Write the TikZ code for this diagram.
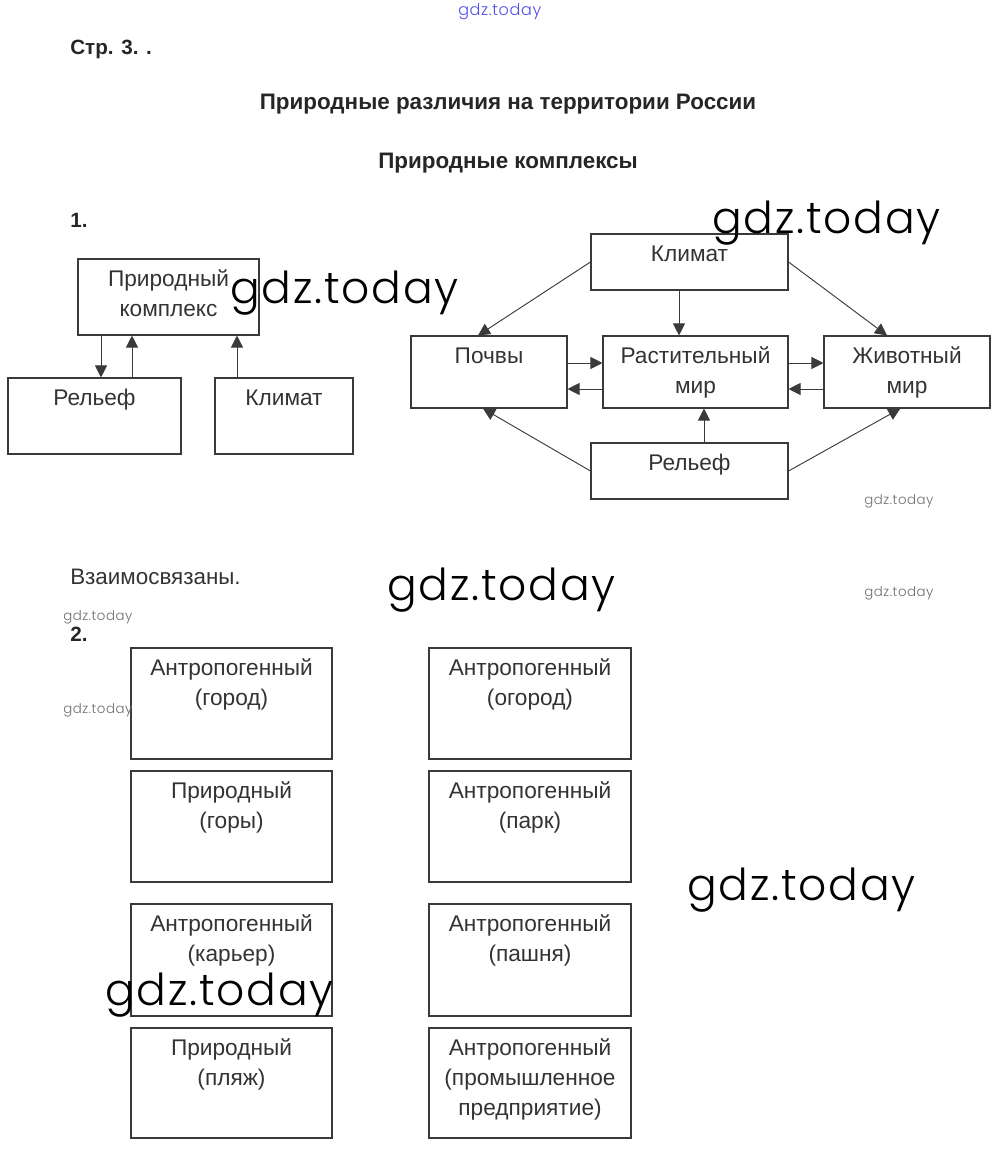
\documentclass[tikz,border=0pt]{standalone}
\usepackage{fontspec}
\setmainfont{Liberation Sans}
\IfFontExistsTF{Poppins Light}
  {\newfontfamily\wmfont{Poppins Light}[LetterSpace=4]}
  {\newfontfamily\wmfont{Poppins}[LetterSpace=4]}
\usetikzlibrary{arrows.meta, positioning}
\definecolor{inkgray}{HTML}{333333}
\definecolor{framegray}{HTML}{3A3A3A}
\definecolor{wmgray}{HTML}{6E6E6E}
\definecolor{wmblue}{HTML}{4F4FE8}

\begin{document}
\begin{tikzpicture}[
    x=0.75pt, y=-0.75pt, % one unit = one pixel of the page
    box/.style 2 args={draw=framegray, line width=0.8pt, minimum width=#1*0.75pt, minimum height=#2*0.75pt, inner sep=0pt},
    boxtext/.style={anchor=base, yshift=-21pt-(#1-1)*22.5pt, align=center, text=inkgray, inner sep=0pt, font=\fontsize{17}{22.5}\selectfont},
    boxtext/.default=1,
    heading/.style={font=\bfseries\fontsize{16.8}{20}\selectfont, text=black!85, inner sep=0pt},
    tasknum/.style={font=\bfseries\fontsize{15.5}{18}\selectfont, text=black!85, inner sep=0pt},
    link/.style={draw=framegray, line width=0.7pt, -{Triangle[length=9pt, width=9pt]}},
    wmbig/.style={font=\wmfont\fontsize{33}{33}\selectfont, inner sep=0pt, anchor=base west},
    wmsmall/.style={font=\wmfont\fontsize{10}{10}\selectfont, text=wmgray, inner sep=0pt, anchor=base west}
  ]
  \useasboundingbox (0,0) rectangle (1000,1152);

  % Headings
  \node (page) [tasknum, anchor=base west] at (70,55) {Стр. 3. .};
  \node (title) [heading, anchor=base] at (508,110) {Природные различия на территории России};
  \node (subtitle) [heading, anchor=base] at (508,168) {Природные комплексы};
  \node (task1) [tasknum, anchor=base west] at (70,227) {1.};

  % Task 1, left scheme
  \node (kompl) [box={181}{76}, label={[boxtext=2]north:Природный\\комплекс}] at (168.5,297) {};
  \node (relL) [box={173}{76}, label={[boxtext]north:Рельеф}] at (94.5,416) {};
  \node (klimL) [box={138}{76}, label={[boxtext]north:Климат}] at (284,416) {};

  \coordinate (colA) at (101,0);
  \coordinate (colB) at (132,0);
  \coordinate (colC) at (237,0);
  \draw[link] (kompl.south -| colA) -- (relL.north -| colA);
  \draw[link] (relL.north -| colB) -- (kompl.south -| colB);
  \draw[link] (klimL.north -| colC) -- (kompl.south -| colC);

  % Task 1, right scheme
  \node (klimR) [box={197}{56}, label={[boxtext]north:Климат}] at (689.5,262) {};
  \node (pochv) [box={156}{72}, label={[boxtext]north:Почвы}] at (489,372) {};
  \node (rast) [box={185}{72}, label={[boxtext=2]north:Растительный\\мир}] at (695.5,372) {};
  \node (zhiv) [box={166}{72}, label={[boxtext=2]north:Животный\\мир}] at (907,372) {};
  \node (relR) [box={197}{56}, label={[boxtext]north:Рельеф}] at (689.5,471) {};

  \coordinate (vK) at (679,0);
  \coordinate (vR) at (704,0);
  \coordinate (hUp) at (0,363);
  \coordinate (hDn) at (0,389);
  \draw[link] (klimR.west) -- ([xshift=-8.25pt]pochv.north);
  \draw[link] (klimR.south -| vK) -- (rast.north -| vK);
  \draw[link] (klimR.east) -- ([xshift=-15pt]zhiv.north);
  \draw[link] (pochv.east |- hUp) -- (rast.west |- hUp);
  \draw[link] (rast.west |- hDn) -- (pochv.east |- hDn);
  \draw[link] (rast.east |- hUp) -- (zhiv.west |- hUp);
  \draw[link] (zhiv.west |- hDn) -- (rast.east |- hDn);
  \draw[link] (relR.north -| vR) -- (rast.south -| vR);
  \draw[link] (relR.west) -- ([xshift=-4.5pt]pochv.south);
  \draw[link] (relR.east) -- ([xshift=-5pt]zhiv.south);

  \node (answer) [anchor=base west, inner sep=0pt, text=inkgray, font=\fontsize{16.8}{18}\selectfont] at (70,584) {Взаимосвязаны.};

  % Task 2
  \node (task2) [tasknum, anchor=base west] at (70,641) {2.};
  \node (gorod) [box={201}{111}, label={[boxtext=2]north:Антропогенный\\(город)}] at (231.5,703.5) {};
  \node (ogorod) [box={202}{111}, label={[boxtext=2]north:Антропогенный\\(огород)}] at (530,703.5) {};
  \node (gory) [box={201}{111}, label={[boxtext=2]north:Природный\\(горы)}] at (231.5,826.5) {};
  \node (park) [box={202}{111}, label={[boxtext=2]north:Антропогенный\\(парк)}] at (530,826.5) {};
  \node (karer) [box={201}{112}, label={[boxtext=2]north:Антропогенный\\(карьер)}] at (231.5,960) {};
  \node (pashnya) [box={202}{112}, label={[boxtext=2]north:Антропогенный\\(пашня)}] at (530,960) {};
  \node (plyazh) [box={201}{110}, label={[boxtext=2]north:Природный\\(пляж)}] at (231.5,1083) {};
  \node (zavod) [box={202}{110}, label={[boxtext=3]north:Антропогенный\\(промышленное\\предприятие)}] at (530,1083) {};

  % Watermarks
  \node (wm0) [font=\wmfont\fontsize{12}{12}\selectfont, text=wmblue, inner sep=0pt, anchor=base west] at (458,16) {gdz.today};
  \node (wm1) [wmbig] at (712,233) {gdz.today};
  \node (wm2) [wmbig] at (230,303) {gdz.today};
  \node (wm3) [wmbig] at (387,600) {gdz.today};
  \node (wm4) [wmbig] at (687,900) {gdz.today};
  \node (wm5) [wmbig] at (105,1005) {gdz.today};
  \node (wm6) [wmsmall] at (864,504) {gdz.today};
  \node (wm7) [wmsmall] at (864,596) {gdz.today};
  \node (wm8) [wmsmall] at (63,620) {gdz.today};
  \node (wm9) [wmsmall] at (63,713) {gdz.today};
\end{tikzpicture}
\end{document}
